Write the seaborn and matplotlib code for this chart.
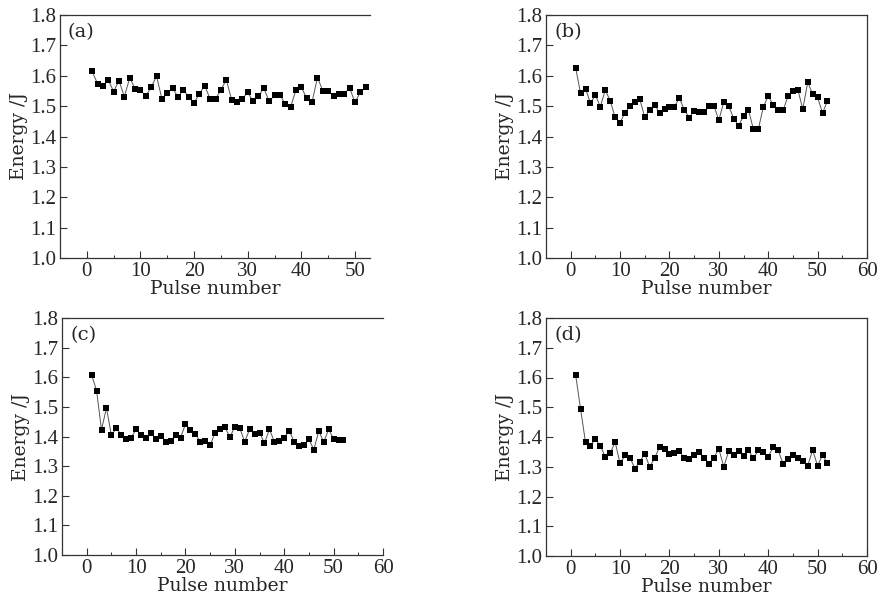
import seaborn as sns
import matplotlib.pyplot as plt
import pandas as pd
import numpy as np
from matplotlib.ticker import MultipleLocator

pulse = list(range(1, 53))

energy_a = [1.614, 1.574, 1.565, 1.586, 1.548, 1.584, 1.531, 1.593, 1.557, 1.552,
            1.534, 1.562, 1.599, 1.524, 1.542, 1.559, 1.530, 1.554, 1.530, 1.510,
            1.541, 1.567, 1.523, 1.524, 1.553, 1.587, 1.521, 1.513, 1.524, 1.545,
            1.516, 1.532, 1.559, 1.516, 1.535, 1.537, 1.507, 1.497, 1.554, 1.562,
            1.526, 1.514, 1.594, 1.551, 1.551, 1.534, 1.540, 1.540, 1.560, 1.512,
            1.546, 1.562]

energy_b = [1.627, 1.542, 1.558, 1.510, 1.536, 1.498, 1.553, 1.518, 1.463, 1.445,
            1.479, 1.500, 1.515, 1.523, 1.463, 1.488, 1.505, 1.476, 1.491, 1.498,
            1.498, 1.527, 1.488, 1.462, 1.484, 1.482, 1.480, 1.499, 1.501, 1.454,
            1.514, 1.502, 1.458, 1.436, 1.467, 1.487, 1.424, 1.424, 1.497, 1.534,
            1.504, 1.486, 1.486, 1.532, 1.549, 1.554, 1.490, 1.579, 1.539, 1.529,
            1.477, 1.518]

energy_c = [1.608, 1.555, 1.422, 1.497, 1.404, 1.428, 1.406, 1.391, 1.396, 1.424,
            1.404, 1.396, 1.413, 1.392, 1.403, 1.383, 1.384, 1.406, 1.396, 1.442,
            1.422, 1.408, 1.383, 1.384, 1.371, 1.413, 1.425, 1.431, 1.398, 1.433,
            1.428, 1.382, 1.425, 1.409, 1.413, 1.378, 1.424, 1.383, 1.384, 1.396,
            1.420, 1.383, 1.367, 1.371, 1.390, 1.356, 1.419, 1.381, 1.425, 1.391,
            1.387, 1.388]

energy_d = [1.609, 1.494, 1.382, 1.371, 1.394, 1.370, 1.333, 1.345, 1.383, 1.311,
            1.338, 1.331, 1.294, 1.317, 1.344, 1.299, 1.330, 1.366, 1.360, 1.342,
            1.345, 1.354, 1.328, 1.326, 1.339, 1.351, 1.331, 1.309, 1.331, 1.360,
            1.300, 1.353, 1.339, 1.354, 1.336, 1.356, 1.328, 1.356, 1.348, 1.334,
            1.365, 1.356, 1.310, 1.326, 1.341, 1.330, 1.319, 1.304, 1.356, 1.303,
            1.340, 1.311]

panels = ["(a)", "(b)", "(c)", "(d)"]
y_ticks = [1.0, 1.1, 1.2, 1.3, 1.4, 1.5, 1.6, 1.7, 1.8]

df = pd.DataFrame({
    "Pulse": pulse * 4,
    "Energy": energy_a + energy_b + energy_c + energy_d,
    "Panel": np.repeat(panels, len(pulse)),
})

sns.set_theme(style="ticks")
plt.rcParams["font.family"] = ["DejaVu Serif"]

W, H = 880, 605
fig = plt.figure(figsize=(8.8, 6.05), dpi=100)

# pixel boxes: left, right, top, bottom
boxes = {
    "(a)": (60, 370, 15, 258),
    "(b)": (546, 867, 15, 258),
    "(c)": (62, 383, 318, 555),
    "(d)": (546, 867, 318, 556),
}
xlims = {"(a)": (-5, 52.8), "(b)": (-5, 60), "(c)": (-5, 60), "(d)": (-5, 60)}

for p in panels:
    l, r, t, b = boxes[p]
    ax = fig.add_axes([l / W, 1 - b / H, (r - l) / W, (b - t) / H])
    sub = df[df["Panel"] == p]
    sns.lineplot(data=sub, x="Pulse", y="Energy", ax=ax, color="#555555",
                 linewidth=0.7, legend=False)
    sns.scatterplot(data=sub, x="Pulse", y="Energy", ax=ax, marker="s",
                    color="black", s=22, edgecolor="black", linewidth=0,
                    legend=False, clip_on=False, zorder=3)
    ax.set_xlim(*xlims[p])
    ax.set_ylim(1.0, 1.8)
    ax.set_yticks(y_ticks)
    ax.set_yticklabels([f"{v:.1f}" for v in y_ticks])
    ax.xaxis.set_major_locator(MultipleLocator(10))
    ax.xaxis.set_minor_locator(MultipleLocator(5))
    ax.tick_params(axis="both", which="major", direction="in", length=5,
                   width=0.8, labelsize=15, pad=3, color="#333333")
    ax.tick_params(axis="x", which="minor", direction="in", length=2.5,
                   width=0.7, color="#333333")
    for lab in ax.get_xticklabels() + ax.get_yticklabels():
        lab.set_family(["Liberation Serif"])
    ax.set_xlabel("Pulse number", fontsize=13.5, labelpad=-1)
    ax.set_ylabel("Energy /J", fontsize=13.5, labelpad=1)
    for s in ax.spines.values():
        s.set_linewidth(0.9)
        s.set_color("#333333")
    if p in ("(a)", "(c)"):
        ax.spines["right"].set_visible(False)
    ax.text(0.025, 0.965, p, transform=ax.transAxes, va="top", ha="left",
            fontsize=14)

fig.savefig("out.png", dpi=100)
